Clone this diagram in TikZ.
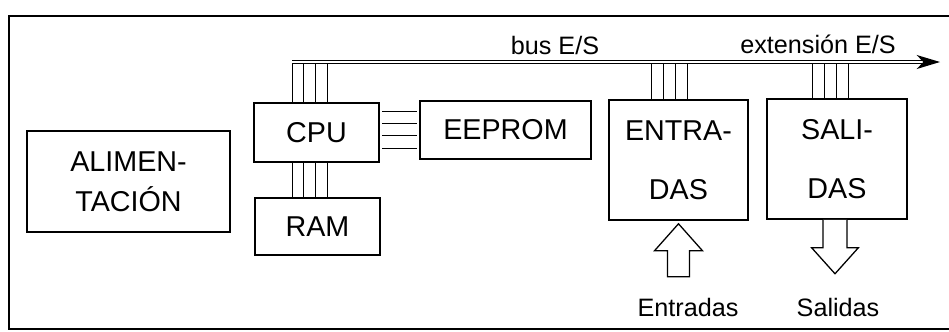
\documentclass[tikz,border=0pt]{standalone}
\usepackage{fontspec}
\setmainfont{Liberation Sans}
\usetikzlibrary{arrows.meta}
\tikzstyle{block} = [
    rectangle,
    draw=black,
    line width=1.3pt,
    inner sep=0pt,
    align=center,
    font=\fontsize{24.5}{34}\selectfont
]
\tikzstyle{tallblock} = [
    block,
    font=\fontsize{24.5}{50}\selectfont
]
\tikzstyle{tag} = [
    inner sep=0pt,
    font=\fontsize{21.5}{26}\selectfont
]
\tikzstyle{wire} = [line width=0.6pt, double distance=0.7pt]
\tikzstyle{bus} = [
    line width=1.2pt,
    double distance=1pt,
    -{Stealth[length=0.7cm, width=0.42cm, inset=0.2cm]}
]
\tikzstyle{hollow} = [line width=1.1pt, fill=white, line join=miter]

\begin{document}
\begin{tikzpicture}[x=0.03cm, y=-0.03cm]

\useasboundingbox (0,0) rectangle (949,331);
\draw [line width=1.3pt] (9,16) rectangle (960,329);

\node (alim) [block, minimum width=6.09cm, minimum height=3.03cm] at (128.5,181.5)
{ALIMEN-\\TACIÓN};

\node (cpu) [block, minimum width=3.75cm, minimum height=1.77cm] at (316.5,132.5) {CPU};

\node (ram) [block, minimum width=3.75cm, minimum height=1.71cm] at (317.5,226.5) {RAM};

\node (eeprom) [block, minimum width=5.13cm, minimum height=1.74cm] at (505.5,130) {EEPROM};

\node (ent) [tallblock, minimum width=4.17cm, minimum height=3.6cm] at (678.5,160)
{ENTRA-\\DAS};

\node (sal) [tallblock, minimum width=4.2cm, minimum height=3.6cm] at (837,159)
{SALI-\\DAS};

\node (busname) [tag] at (555,45) {bus E/S};
\node (extname) [tag] at (818,44) {extensión E/S};
\node (entname) [tag] at (688,307) {Entradas};
\node (salname) [tag] at (838,307) {Salidas};

\coordinate (busL) at (292,62);
\coordinate (busR) at (940,62);

\foreach \d in {1.2,1.53,1.89,2.25} {
    \draw [wire] ([xshift=\d cm]cpu.north west) -- ([xshift=\d cm]cpu.north west |- busL);
    \draw [wire] ([xshift=\d cm]cpu.south west) -- ([xshift=\d cm]cpu.south west |- ram.north);
}
\foreach \d in {0.3,0.66,1.02,1.41}
    \draw [wire, shorten <=0.08cm, shorten >=0.08cm]
    ([yshift=-\d cm]cpu.north east) -- ([yshift=-\d cm]cpu.north east -| eeprom.west);
\foreach \d in {1.32,1.68,2.04,2.4}
    \draw [wire] ([xshift=\d cm]ent.north west) -- ([xshift=\d cm]ent.north west |- busL);
\foreach \d in {1.41,1.77,2.13,2.49}
    \draw [wire] ([xshift=\d cm]sal.north west) -- ([xshift=\d cm]sal.north west |- busL);

\draw [bus] (busL) -- (busR);

\draw [hollow] ([yshift=-0.09cm]ent.south) -- ++(0.72cm,-0.81cm) -- ++(-0.39cm,0cm)
    -- ++(0cm,-0.78cm) -- ++(-0.66cm,0cm) -- ++(0cm,0.78cm) -- ++(-0.39cm,0cm) -- cycle;
\draw [hollow] ([xshift=-0.42cm]sal.south) -- ++(0cm,-0.84cm) -- ++(-0.34cm,0cm)
    -- ++(0.7cm,-0.78cm) -- ++(0.7cm,0.78cm) -- ++(-0.34cm,0cm) -- ++(0cm,0.84cm);

\end{tikzpicture}
\end{document}
